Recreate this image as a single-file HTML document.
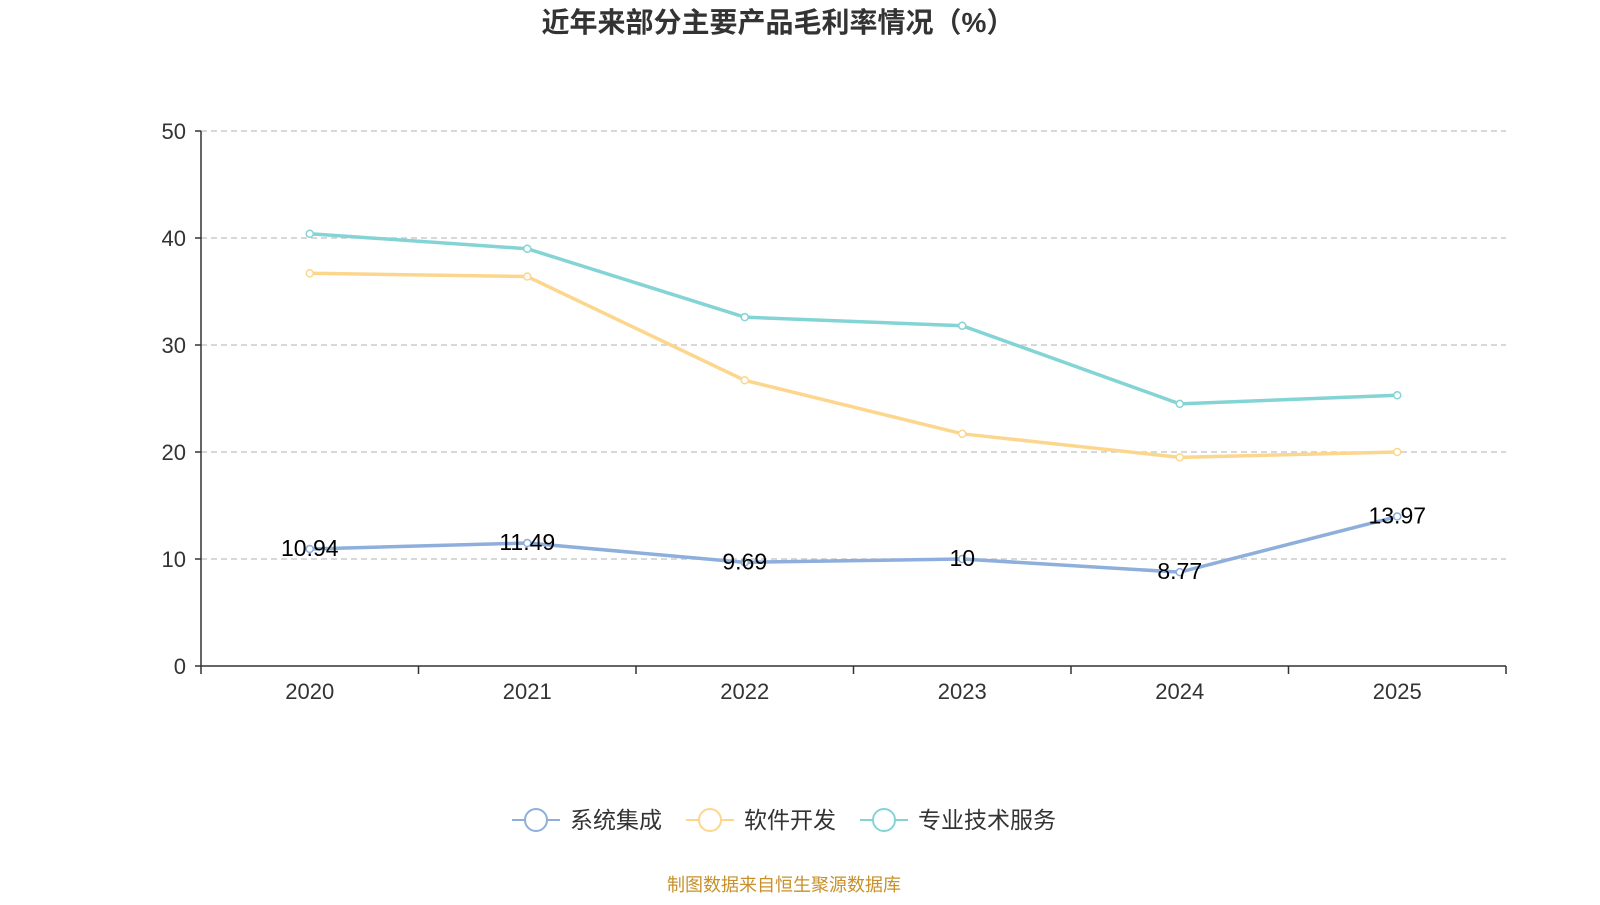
<!DOCTYPE html>
<html><head><meta charset="utf-8">
<style>
html,body{margin:0;padding:0;background:#fff;}
body{width:1600px;height:900px;overflow:hidden;font-family:"Liberation Sans","Noto Sans CJK SC",sans-serif;}
</style></head>
<body>
<svg id="chart" width="1600" height="900" xmlns="http://www.w3.org/2000/svg" font-family="Liberation Sans, Noto Sans CJK SC, sans-serif">
<text x="778" y="32" text-anchor="middle" font-size="28" font-weight="bold" fill="#333">近年来部分主要产品毛利率情况（%）</text>
<g id="grid"></g><g id="axes"></g><g id="series"></g>
<g id="legend"></g>
<text x="784" y="891" text-anchor="middle" font-size="18" fill="#c8902a">制图数据来自恒生聚源数据库</text>
</svg>
<script>
const categories=["2020","2021","2022","2023","2024","2025"];
const yTicks=[0,10,20,30,40,50];
const seriesNames=["系统集成","软件开发","专业技术服务"];
const sysValues=[10.94,11.49,9.69,10,8.77,13.97];
const softValues=[36.7,36.4,26.7,21.7,19.5,20.0];
const profValues=[40.4,39.0,32.6,31.8,24.5,25.3];
const colors=["#8eaedc","#fdd68e","#84d4d6"];
const NS="http://www.w3.org/2000/svg";
const X0=201,X1=1506,Y0=666,Y1=131;
const step=(X1-X0)/categories.length;
const xs=i=>X0+step*(i+0.5);
const ys=v=>Y0-(v/50)*(Y0-Y1);
function mk(t,a,p){const e=document.createElementNS(NS,t);for(const k in a)e.setAttribute(k,a[k]);p.appendChild(e);return e;}
const grid=document.getElementById('grid'),axes=document.getElementById('axes'),ser=document.getElementById('series'),leg=document.getElementById('legend');
yTicks.forEach(v=>{
 if(v>0){const l=mk('line',{x1:X0,x2:X1,y1:ys(v),y2:ys(v),stroke:'#ccc','stroke-dasharray':'6,4','stroke-width':1.5},grid);
 }
 const t=mk('text',{x:186,y:ys(v)+8,'text-anchor':'end','font-size':22,fill:'#333'},axes);t.textContent=v;
 
 mk('line',{x1:X0-6,x2:X0,y1:ys(v),y2:ys(v),stroke:'#333','stroke-width':1.5},axes);
});
const ya=mk('line',{x1:X0,x2:X0,y1:Y1,y2:Y0,stroke:'#333','stroke-width':1.5},axes);

const xa=mk('line',{x1:X0,x2:X1,y1:Y0,y2:Y0,stroke:'#333','stroke-width':1.5},axes);

for(let i=0;i<=categories.length;i++)mk('line',{x1:X0+step*i,x2:X0+step*i,y1:Y0,y2:Y0+8,stroke:'#333','stroke-width':1.5},axes);
categories.forEach((c,i)=>{const t=mk('text',{x:xs(i),y:699,'text-anchor':'middle','font-size':22,fill:'#333'},axes);t.textContent=c;
 });
[sysValues,softValues,profValues].forEach((vals,s)=>{
 const g=mk('g',{},ser);
 const p=mk('polyline',{points:vals.map((v,i)=>xs(i)+','+ys(v)).join(' '),fill:'none',stroke:colors[s],'stroke-width':3.5},g);
 
 vals.forEach((v,i)=>{const c=mk('circle',{cx:xs(i),cy:ys(v),r:3.5,fill:'#fff',stroke:colors[s],'stroke-width':1.5},g);
  });
});
sysValues.forEach((v,i)=>{const t=mk('text',{x:xs(i),y:ys(v)+7,'text-anchor':'middle','font-size':23,fill:'#000'},ser);t.textContent=v;
 });
const lx=[512,686,860];
seriesNames.forEach((n,s)=>{const g=mk('g',{},leg);
 mk('line',{x1:lx[s],x2:lx[s]+48,y1:820,y2:820,stroke:colors[s],'stroke-width':2},g);
 mk('circle',{cx:lx[s]+24,cy:820,r:11,fill:'#fff',stroke:colors[s],'stroke-width':2},g);
 const t=mk('text',{x:lx[s]+58,y:828,'font-size':23,fill:'#333'},g);t.textContent=n;});
</script>
</body></html>
